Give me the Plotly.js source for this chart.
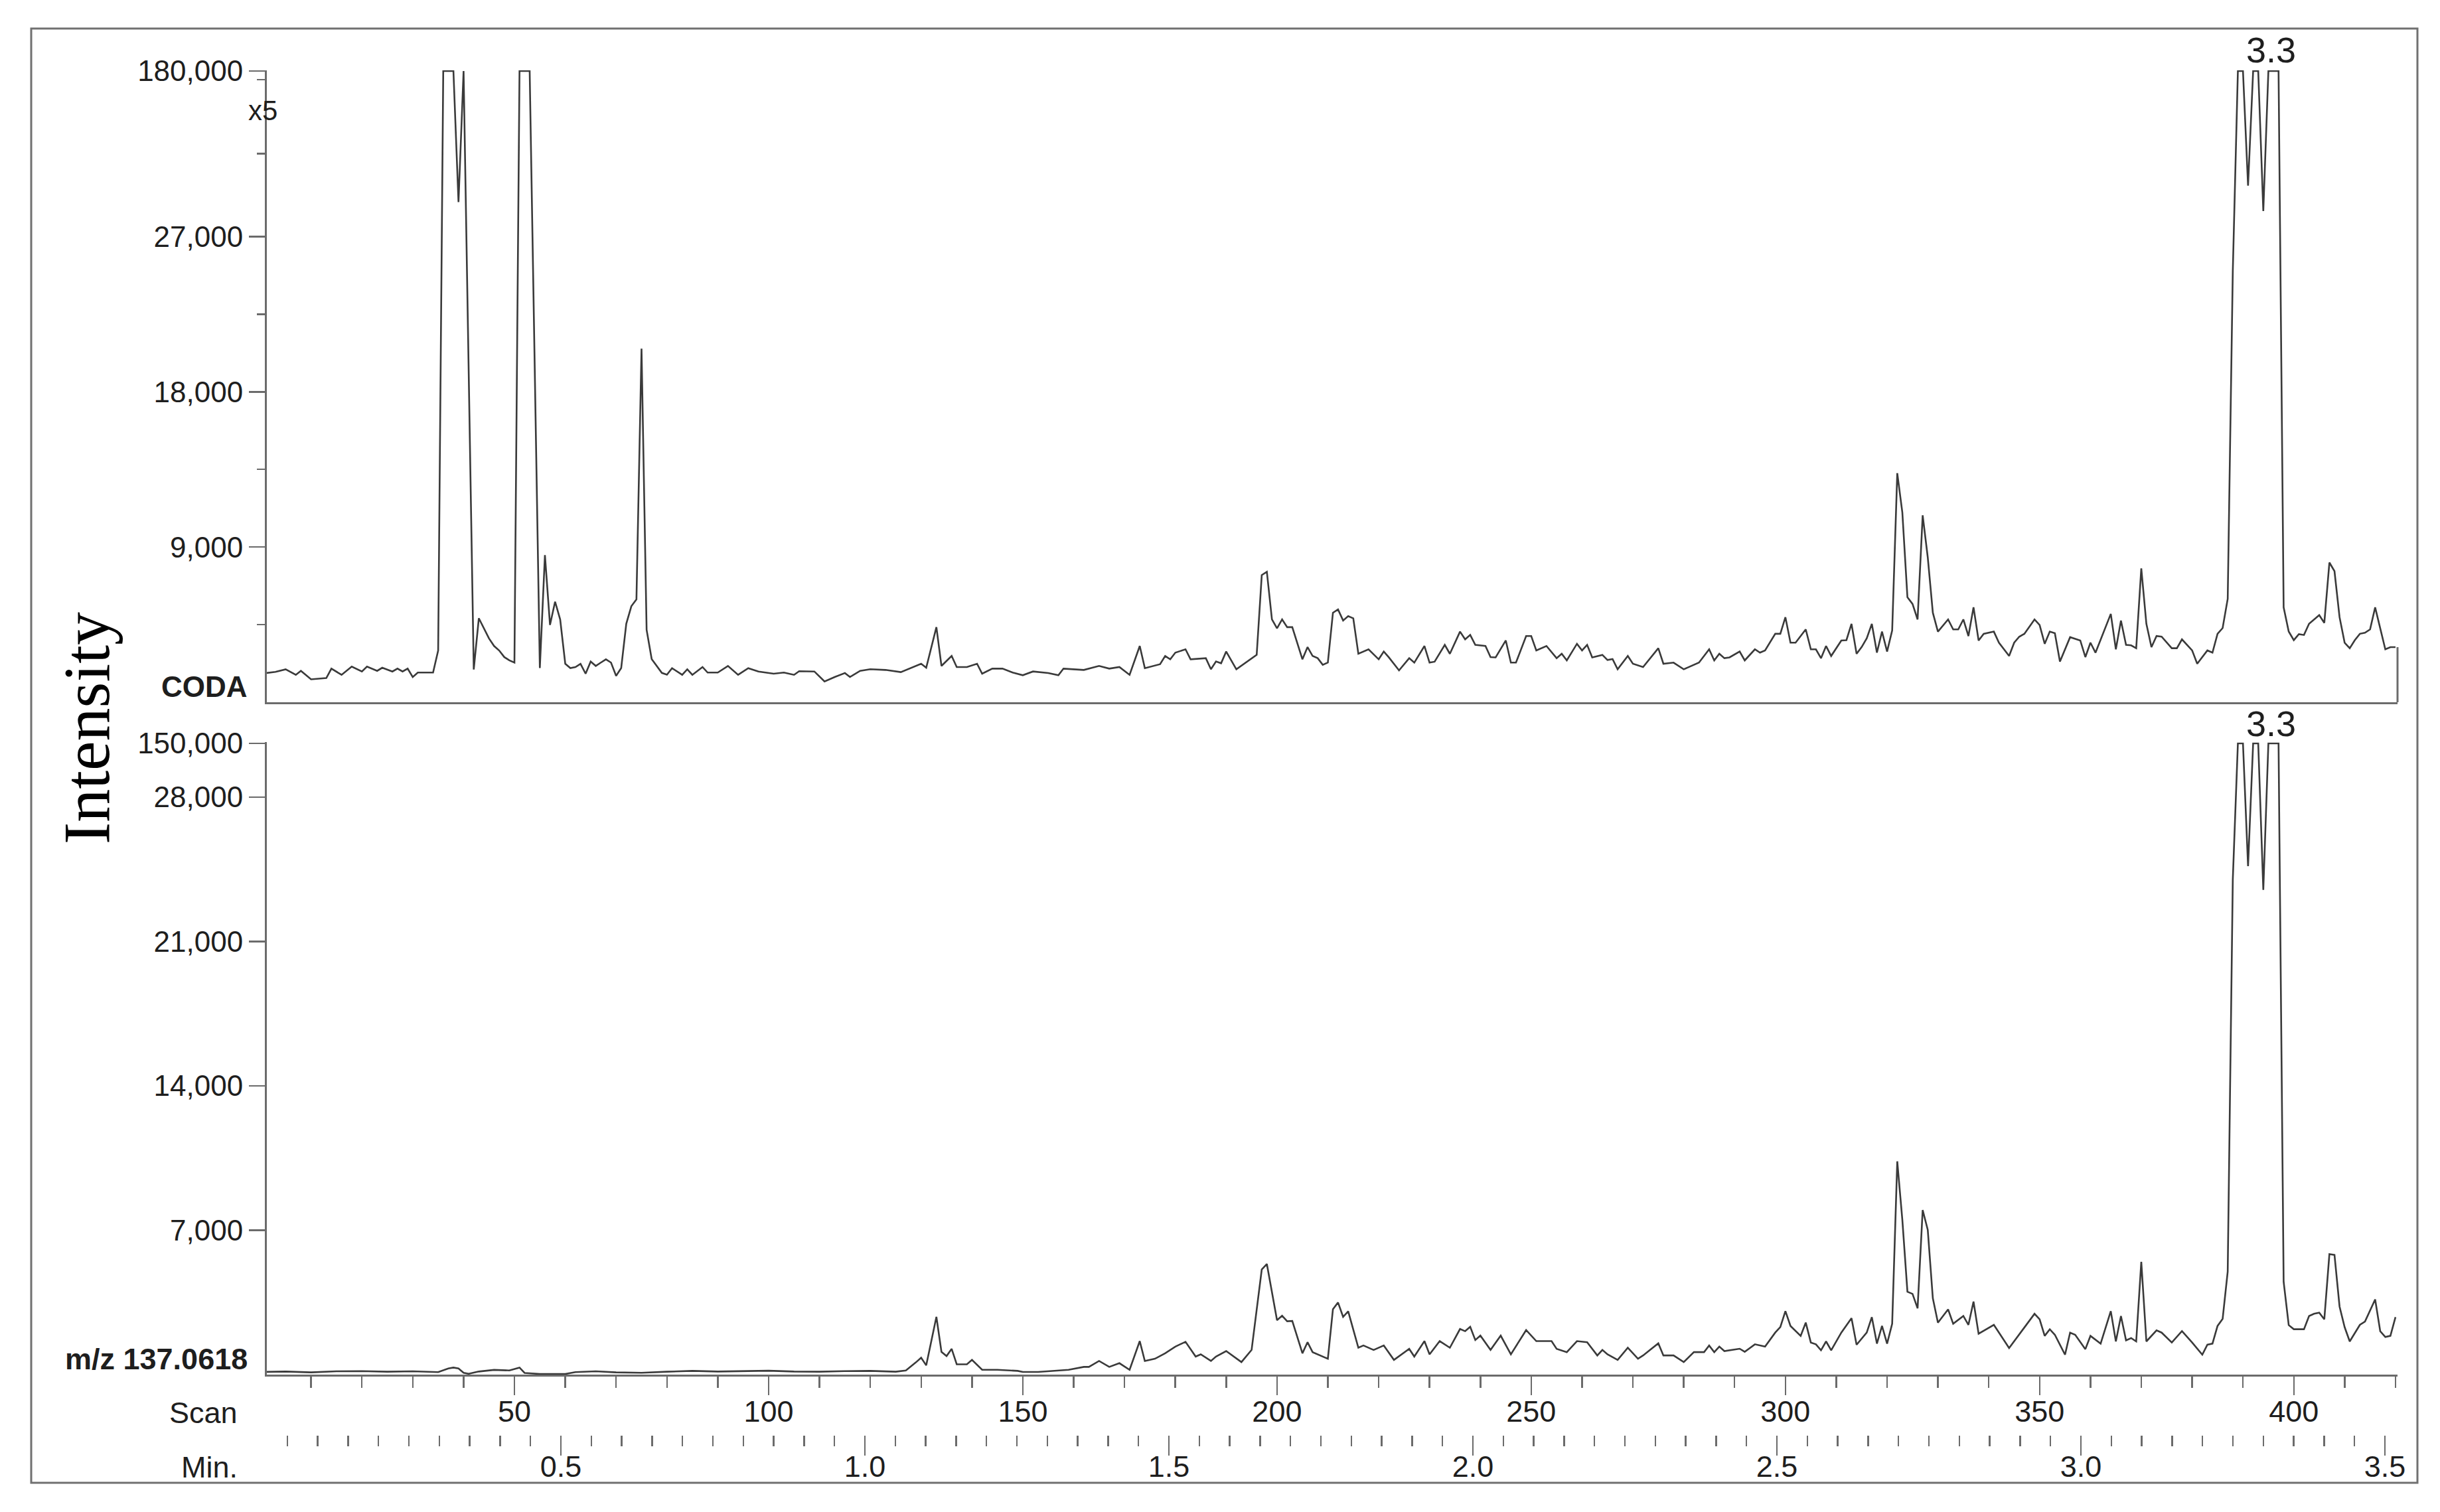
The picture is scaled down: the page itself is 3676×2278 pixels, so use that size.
<!DOCTYPE html>
<html>
<head>
<meta charset="utf-8">
<script src="https://cdn.plot.ly/plotly-3.0.1.min.js"></script>
<style>html,body{margin:0;padding:0;background:#fff;}#chart{width:3676px;height:2278px;}</style>
</head>
<body>
<div id="chart"></div>
<script>
// ---------------- DATA ----------------
// Upper trace: CODA (scan number -> intensity, axis shows a x5 break at top)
const topScan = [
  1,3,5,7,8,10,13,14,16,18,
  20,21,23,24,26,27,28,29,30,31,
  34,35,36,37,38,39,40,42,43,45,
  46,47,48,49,50,51,52,53,55,56,
  57,58,59,60,61,62,63,64,65,66,
  67,68,69,70,71,72,73,74,75,76,
  77,78,79,80,81,83,84,85,87,88,
  90,92,94,96,98,101,103,105,106,109,
  111,113,115,116,118,120,123,126,128,130,
  131,133,134,136,137,139,141,142,144,146,
  148,150,152,155,157,158,162,165,167,169,
  171,173,174,177,178,179,180,182,183,186,
  187,188,189,190,192,194,196,197,198,199,
  200,201,202,203,205,206,207,208,209,210,
  211,212,213,214,215,216,218,220,221,222,
  224,226,227,229,230,231,233,234,236,237,
  238,239,241,242,243,245,246,247,249,250,
  251,253,255,256,257,259,260,261,262,264,
  265,266,267,269,270,272,275,276,278,280,
  283,285,286,287,288,289,291,292,294,295,
  296,298,299,300,301,302,304,305,306,307,
  308,309,311,312,313,314,315,316,317,318,
  319,320,321,322,323,324,325,326,327,328,
  329,330,332,333,334,335,336,337,338,339,
  341,342,344,345,346,347,349,350,351,352,
  353,354,356,358,359,360,361,364,365,366,
  367,368,369,370,371,372,373,374,376,377,
  378,380,381,383,384,385,386,387,388,389,
  390,391,392,393,394,395,396,397,398,399,
  400,401,402,403,404,405,406,407,408,409,
  410,411,412,413,414,415,416,417,418,419,
  420
];
const topVal = [
  1690,1760,1910,1590,1820,1330,1400,1950,1590,2070,
  1780,2070,1820,2000,1780,1950,1780,1950,1460,1720,
  1720,3000,36600,36600,36600,29000,36600,1900,4870,3700,
  3260,3000,2620,2430,2300,36600,36600,36600,1980,8530,
  4480,5830,4800,2230,1980,2040,2230,1655,2360,2105,
  2300,2490,2300,1530,1980,4550,5570,5960,20500,4200,
  2500,2100,1700,1600,1976,1590,1912,1590,2040,1720,
  1720,2105,1590,1976,1783,1655,1719,1590,1800,1783,
  1205,1462,1693,1462,1822,1912,1873,1745,2002,2233,
  2002,4353,2105,2683,2040,2040,2233,1655,1950,1950,
  1719,1565,1783,1693,1565,1950,1873,2105,1950,2040,
  1590,3261,1976,2207,2683,2490,2876,3068,2490,2554,
  1912,2362,2259,2940,1912,2336,2747,7373,7566,4803,
  4289,4803,4353,4353,2490,3197,2683,2554,2169,2300,
  5188,5380,4738,4995,4866,2810,3068,2489,2939,2600,
  1847,2554,2297,3260,2297,2350,3325,2810,4095,3646,
  3903,3325,3260,2618,2600,3581,2297,2297,3839,3839,
  3003,3260,2554,2810,2425,3389,3003,3325,2600,2746,
  2450,2500,1911,2682,2232,2039,3132,2232,2297,1911,
  2297,3068,2425,2810,2554,2600,2939,2425,3068,2875,
  3003,3967,3967,4930,3453,3453,4224,3068,3068,2554,
  3260,2682,3581,3600,4545,2810,3200,3710,4545,2875,
  4095,2939,4160,13283,11000,6087,5701,4802,10842,8400,
  5188,4095,4802,4224,4224,4802,3839,5509,3581,3967,
  4095,3453,2682,3453,3800,3967,4802,4481,3389,4095,
  4000,2360,3774,3581,2618,3453,2875,5123,3068,4738,
  3325,3300,3132,7758,4545,3196,3839,3800,3132,3132,
  3646,3003,2232,3003,2875,3967,4300,6000,25000,36600,
  36600,29950,36600,36600,28480,36600,36600,36600,5500,4100,
  3600,3950,3900,4550,4800,5050,4600,8100,7600,4930,
  3450,3130,3600,3970,4030,4224,5500,4224,3068,3196,
  3196
];

// Lower trace: m/z 137.0618
const botScan = [
  1,5,10,15,20,25,30,35,37,38,
  39,40,41,43,46,49,51,52,55,60,
  62,66,70,75,80,85,90,95,100,105,
  110,115,120,125,127,129,130,131,133,134,
  135,136,137,139,140,142,145,149,150,153,
  156,159,162,163,165,167,169,171,173,174,
  176,178,180,182,184,185,187,188,190,192,
  193,195,197,198,200,201,202,203,205,206,
  207,210,211,212,213,214,216,217,219,221,
  223,226,227,229,230,232,234,236,237,238,
  239,240,242,244,246,249,251,254,255,257,
  259,261,263,264,265,267,269,271,272,275,
  276,278,280,282,284,285,286,287,288,291,
  292,294,296,298,299,300,301,303,304,305,
  306,307,308,309,311,313,314,316,317,318,
  319,320,321,322,323,324,325,326,327,328,
  329,330,332,333,335,336,337,338,341,344,
  347,349,350,351,352,353,355,356,357,359,
  360,362,364,365,366,367,368,369,370,371,
  373,374,376,378,380,382,383,384,385,386,
  387,388,389,390,391,392,393,394,395,396,
  397,398,399,400,402,403,404,405,406,407,
  408,409,410,411,413,414,416,417,418,419,
  420
];
const botVal = [
  130,150,110,160,170,140,160,120,300,340,
  300,90,40,150,230,200,341,80,30,30,
  120,160,110,90,140,180,150,170,190,150,
  140,170,180,140,200,600,820,447,2799,1100,
  900,1249,500,500,715,234,234,180,127,130,
  180,234,373,373,661,373,554,234,1623,661,
  768,1035,1356,1591,875,982,661,875,1142,768,
  607,1196,5097,5365,2639,2853,2586,2600,1035,1570,
  1089,768,3173,3494,2799,3066,1303,1410,1196,1410,
  714,1249,875,1623,982,1623,1303,2211,2104,2318,
  1677,1890,1196,1890,982,2158,1623,1623,1249,1089,
  1623,1570,928,1196,982,714,1303,768,928,1516,
  928,928,607,1089,1089,1410,1089,1356,1142,1255,
  1105,1469,1362,2037,2305,3076,2359,1877,2520,1555,
  1469,1180,1609,1180,2037,2734,1448,2037,2787,1502,
  2359,1502,2466,10338,7500,4018,3912,3215,7981,7017,
  3700,2520,3162,2466,2841,2412,3537,1984,2412,1287,
  2305,2948,2680,1877,2198,1930,966,2037,1930,1234,
  1877,1502,3076,1609,2841,1662,1770,1609,5464,1609,
  2144,2037,1555,2112,1555,966,1448,1502,2359,2700,
  5000,24000,30600,30600,24650,30600,30600,23500,30600,30600,
  30600,4500,2400,2200,2200,2841,2950,3000,2680,5839,
  5800,3300,2300,1609,2412,2573,3644,2100,1823,1880,
  2787
];

// Axis ticks and labels
const topTickVals  = [9000, 18000, 27000, 36600];
const topTickText  = ['9,000', '18,000', '27,000', '180,000'];
const topMinorVals = [4500, 13500, 22500, 31800, 36100];
const botTickVals  = [7000, 14000, 21000, 28000, 30600];
const botTickText  = ['7,000', '14,000', '21,000', '28,000', '150,000'];
const scanRange = [1.3, 420.4];
const minRange  = [0.0164, 3.5207];
const topRangeMax = 36650;
const botRangeMax = 30650;
const topLabel = 'CODA';
const botLabel = 'm/z 137.0618';
const peakLabel = '3.3';
const yTitle = 'Intensity';

// ---------------- LAYOUT ----------------
const W = 3676, H = 2278;
const px = v => v / W;          // pixel x -> paper
const py = v => 1 - v / H;      // pixel y (from top) -> paper
const AX = '#6b6b6b';
const LINE = '#3a3a3a';
const TXT = '#1e1e1e';
const SANS = '"Liberation Sans", Arial, Helvetica, sans-serif';
const SERIF = '"Liberation Serif", "Times New Roman", serif';

const xd = [px(402), px(3612)];
const topDom = [py(1058), py(1058 - 951 * topRangeMax / 36600)];
const botDom = [py(2071), py(2071 - 951 * botRangeMax / 30600)];

const traces = [
  {x: topScan, y: topVal, xaxis: 'x', yaxis: 'y', type: 'scatter', mode: 'lines',
   line: {color: LINE, width: 2.6}, hoverinfo: 'skip', showlegend: false},
  {x: botScan, y: botVal, xaxis: 'x2', yaxis: 'y2', type: 'scatter', mode: 'lines',
   line: {color: LINE, width: 2.6}, hoverinfo: 'skip', showlegend: false},
  {x: [], y: [], xaxis: 'x3', yaxis: 'y2', type: 'scatter', mode: 'lines', showlegend: false, hoverinfo: 'skip'}
];

const yCommon = {
  showline: true, linecolor: AX, linewidth: 3, ticks: 'outside', ticklen: 24, tickwidth: 2.5,
  tickcolor: AX, tickmode: 'array', showgrid: false, zeroline: false,
  tickfont: {family: SANS, size: 44, color: TXT}, fixedrange: true
};

const layout = {
  width: W, height: H,
  margin: {l: 0, r: 0, t: 0, b: 0, pad: 0},
  paper_bgcolor: '#ffffff', plot_bgcolor: 'rgba(0,0,0,0)',
  showlegend: false,
  font: {family: SANS, color: TXT, size: 44},
  xaxis: {domain: xd, range: scanRange, anchor: 'y', showline: true, linecolor: AX, linewidth: 3,
          ticks: '', showticklabels: false, showgrid: false, zeroline: false, fixedrange: true},
  yaxis: Object.assign({}, yCommon, {domain: topDom, range: [0, topRangeMax], anchor: 'x',
          tickvals: topTickVals, ticktext: topTickText,
          minor: {tickmode: 'array', tickvals: topMinorVals, ticks: 'outside', ticklen: 12, tickwidth: 2.5, tickcolor: AX, showgrid: false}}),
  xaxis2: {domain: xd, range: scanRange, anchor: 'y2', showline: true, linecolor: AX, linewidth: 3,
           ticks: 'outside', ticklen: 28, tickwidth: 2.5, tickcolor: AX, tickmode: 'linear', tick0: 0, dtick: 50,
           ticklabelstandoff: -14,
           minor: {tick0: 0, dtick: 10, ticks: 'outside', ticklen: 17, tickwidth: 2.5, tickcolor: AX, showgrid: false},
           showgrid: false, zeroline: false, tickfont: {family: SANS, size: 45, color: TXT}, fixedrange: true},
  yaxis2: Object.assign({}, yCommon, {domain: botDom, range: [0, botRangeMax], anchor: 'x2',
           tickvals: botTickVals, ticktext: botTickText}),
  xaxis3: {overlaying: 'x2', anchor: 'free', position: py(2162), side: 'bottom', range: minRange,
           showline: false, ticks: 'outside', ticklen: 30, tickwidth: 2.5, tickcolor: AX,
           tickmode: 'linear', tick0: 0, dtick: 0.5, tickformat: '.1f', ticklabelstandoff: -22,
           minor: {tick0: 0, dtick: 0.05, ticks: 'outside', ticklen: 16, tickwidth: 2.5, tickcolor: AX, showgrid: false},
           showgrid: false, zeroline: false, tickfont: {family: SANS, size: 45, color: TXT}, fixedrange: true},
  shapes: [
    {type: 'rect', xref: 'paper', yref: 'paper', x0: px(47), x1: px(3642), y0: py(2234), y1: py(43),
     line: {color: '#707070', width: 3}, fillcolor: 'rgba(0,0,0,0)'},
    {type: 'line', xref: 'x domain', yref: 'y', x0: 1, x1: 1, y0: 0, y1: topVal[topVal.length - 1],
     line: {color: AX, width: 3}}
  ],
  annotations: [
    {text: '<b>' + topLabel + '</b>', xref: 'paper', yref: 'paper', x: px(375), y: py(1034),
     xanchor: 'right', yanchor: 'middle', showarrow: false, font: {family: SANS, size: 44, color: TXT}},
    {text: '<b>' + botLabel + '</b>', xref: 'paper', yref: 'paper', x: px(375), y: py(2047),
     xanchor: 'right', yanchor: 'middle', showarrow: false, font: {family: SANS, size: 45, color: TXT}},
    {text: 'x5', xref: 'paper', yref: 'paper', x: px(396), y: py(166),
     xanchor: 'center', yanchor: 'middle', showarrow: false, font: {family: SANS, size: 42, color: TXT}},
    {text: peakLabel, xref: 'paper', yref: 'paper', x: px(3421), y: py(75),
     xanchor: 'center', yanchor: 'middle', showarrow: false, font: {family: SANS, size: 54, color: TXT}},
    {text: peakLabel, xref: 'paper', yref: 'paper', x: px(3421), y: py(1090),
     xanchor: 'center', yanchor: 'middle', showarrow: false, font: {family: SANS, size: 54, color: TXT}},
    {text: yTitle, xref: 'paper', yref: 'paper', x: px(130), y: py(1097), textangle: -90,
     xanchor: 'center', yanchor: 'middle', showarrow: false, font: {family: SERIF, size: 100, color: '#000'}},
    {text: 'Scan', xref: 'paper', yref: 'paper', x: px(360), y: py(2128),
     xanchor: 'right', yanchor: 'middle', showarrow: false, font: {family: SANS, size: 45, color: TXT}},
    {text: 'Min.', xref: 'paper', yref: 'paper', x: px(360), y: py(2210),
     xanchor: 'right', yanchor: 'middle', showarrow: false, font: {family: SANS, size: 45, color: TXT}}
  ]
};

Plotly.newPlot('chart', traces, layout, {staticPlot: true, displayModeBar: false});
</script>
</body>
</html>
